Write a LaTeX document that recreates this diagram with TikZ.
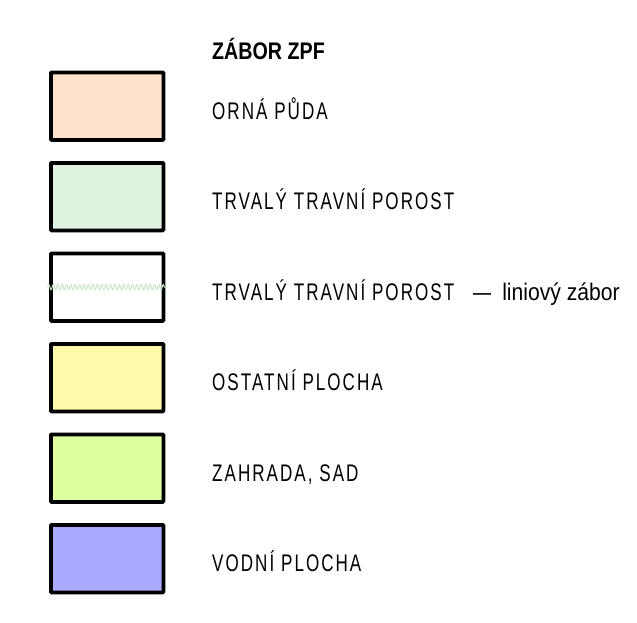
\documentclass[tikz,border=0pt]{standalone}
\usepackage{fontspec}
\setmainfont{Liberation Sans}[FakeStretch=0.71,LetterSpace=8.5]
\newfontfamily\titlefont{Liberation Sans}[FakeStretch=0.82]
\newfontfamily\lowerfont{Liberation Sans}[FakeStretch=0.88]
\newfontfamily\dashfont{Liberation Sans}[FakeStretch=1.35]
\usetikzlibrary{decorations.pathmorphing}
\definecolor{cOrna}{RGB}{255,226,204}
\definecolor{cTTP}{RGB}{224,242,224}
\definecolor{cOst}{RGB}{255,250,170}
\definecolor{cZah}{RGB}{222,255,160}
\definecolor{cVod}{RGB}{170,170,255}
\definecolor{cWave}{RGB}{200,232,200}
\begin{document}
\begin{tikzpicture}[x=1pt,y=-1pt,
  legbox/.style={draw=black,line width=3.8pt,rounded corners=0.8pt,minimum width=112.5pt,minimum height=67.5pt,inner sep=0pt,anchor=north west},
  leglabel/.style={anchor=base west,inner sep=0pt,font=\fontsize{24}{25}\selectfont},
  legtitle/.style={anchor=base west,inner sep=0pt,font=\fontsize{24}{25}\selectfont\titlefont\bfseries}]
\useasboundingbox (0,0) rectangle (637,622);
\node[legtitle] (title) at (212,59) {ZÁBOR ZPF};
\node[legbox,fill=cOrna] (b1) at (49,70.5) {};
\node[legbox,fill=cTTP] (b2) at (49,161) {};
\node[legbox,fill=white] (b3) at (49,251.5) {};
\node[legbox,fill=cOst] (b4) at (49,342) {};
\node[legbox,fill=cZah] (b5) at (49,432.5) {};
\node[legbox,fill=cVod] (b6) at (49,523) {};
\coordinate (w1) at ([xshift=-1.5pt]b3.west);
\coordinate (w2) at ([xshift=1.5pt]b3.east);
\draw[cWave,line width=1pt,decorate,decoration={snake,segment length=4.4pt,amplitude=2.6pt}] (w1) -- (w2);
\node[leglabel] (l1) at (212,119) {ORNÁ PŮDA};
\node[leglabel] (l2) at (212,209.5) {TRVALÝ TRAVNÍ POROST};
\node[leglabel] (l3) at (212,300) {TRVALÝ TRAVNÍ POROST\hspace{19pt}{\dashfont –}\hspace{11pt}{\lowerfont liniový zábor}};
\node[leglabel] (l4) at (212,390.5) {OSTATNÍ PLOCHA};
\node[leglabel] (l5) at (212,481) {ZAHRADA, SAD};
\node[leglabel] (l6) at (212,571.5) {VODNÍ PLOCHA};
\end{tikzpicture}
\end{document}
